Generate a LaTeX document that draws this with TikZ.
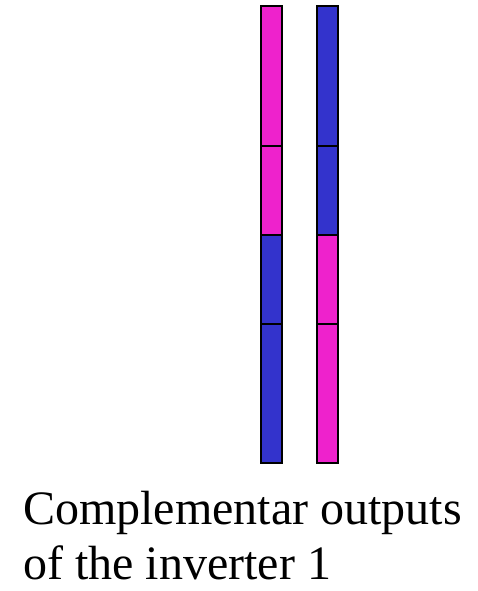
\documentclass[tikz,border=0pt]{standalone}
\usepackage{fontspec}
\setmainfont{Liberation Serif}
\definecolor{sigmag}{HTML}{EE22CC}
\definecolor{sigblue}{HTML}{3333CC}
\begin{document}
\begin{tikzpicture}[x=1pt,y=1pt,
  seg/.style={draw=black,line width=1.5pt},
  caption/.style={anchor=base west,inner sep=0pt,font=\fontsize{48}{55}\selectfont}]
\useasboundingbox (0,0) rectangle (477,591);
% left output bar (top to bottom)
\filldraw[seg,fill=sigmag] (261,585) rectangle (282,445);
\filldraw[seg,fill=sigmag] (261,445) rectangle (282,356);
\filldraw[seg,fill=sigblue] (261,356) rectangle (282,267);
\filldraw[seg,fill=sigblue] (261,267) rectangle (282,128);
% right output bar (complement)
\filldraw[seg,fill=sigblue] (317,585) rectangle (338,445);
\filldraw[seg,fill=sigblue] (317,445) rectangle (338,356);
\filldraw[seg,fill=sigmag] (317,356) rectangle (338,267);
\filldraw[seg,fill=sigmag] (317,267) rectangle (338,128);
% caption
\node[caption] (l1) at (23,66) {Complementar outputs};
\node[caption] (l2) at (23,11) {of the inverter 1};
\end{tikzpicture}
\end{document}
